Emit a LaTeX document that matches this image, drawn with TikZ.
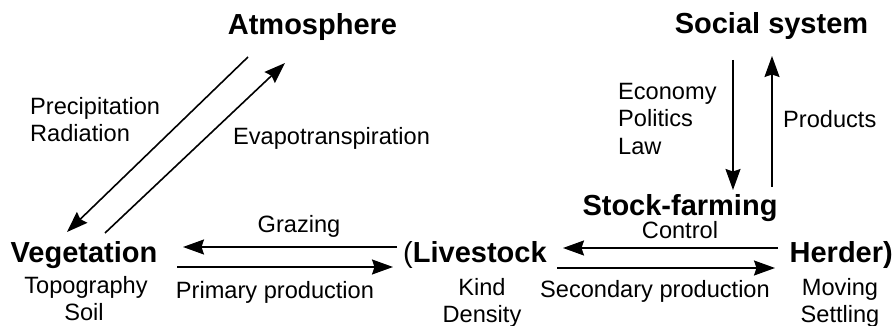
\documentclass[tikz,border=0pt]{standalone}
\usepackage{fontspec}
\setmainfont{Liberation Sans}
\usetikzlibrary{arrows.meta}
\begin{document}
\begin{tikzpicture}[x=1pt,y=-1pt,
  big/.style={font=\fontsize{29}{31}\selectfont\bfseries, inner sep=0pt, anchor=base},
  small/.style={font=\fontsize{23.6}{27}\selectfont, inner sep=0pt, anchor=base},
  flow/.style={line width=1.6pt, -{Stealth[length=21pt,width=15pt,inset=2.5pt]}}]
\useasboundingbox (0,0) rectangle (895,326);
% main nodes
\node[big] (atm) at (312.5,35) {Atmosphere};
\node[big] (soc) at (771.5,34) {Social system};
\node[big] (veg) at (84,262) {Vegetation};
\node[big, anchor=base west] (liv) at (403,262) {{\mdseries(}Livestock};
\node[big] (sf) at (680,215) {Stock-farming};
\node[big, anchor=base east] (her) at (893,262) {Herder)};
% labels
\node[small] (topo) at (86,293) {Topography};
\node[small] (soil) at (84,320) {Soil};
\node[small] (kind) at (482,295) {Kind};
\node[small] (dens) at (482,322) {Density};
\node[small] (mov) at (840,295) {Moving};
\node[small] (sett) at (840,322) {Settling};
\node[small] (graz) at (299,233) {Grazing};
\node[small] (prim) at (275,298) {Primary production};
\node[small] (ctrl) at (680,238) {Control};
\node[small] (sec) at (655,297) {Secondary production};
\node[small, anchor=base west] (prec) at (30,115) {Precipitation};
\node[small, anchor=base west] (rad) at (30,142) {Radiation};
\node[small, anchor=base west] (evap) at (233,145) {Evapotranspiration};
\node[small, anchor=base west] (eco) at (618,100) {Economy};
\node[small, anchor=base west] (pol) at (618,127) {Politics};
\node[small, anchor=base west] (law) at (618,155) {Law};
\node[small, anchor=base west] (prod) at (783,128) {Products};
% connector end points
\coordinate (pA) at (248,57);  \coordinate (pV) at (67,232);
\coordinate (eV) at (105,233); \coordinate (eA) at (285,63);
\coordinate (gL) at (397,247); \coordinate (gV) at (183,247);
\coordinate (pVs) at (177,267); \coordinate (pL) at (393,267);
\coordinate (cH) at (778,248); \coordinate (cL) at (563,248);
\coordinate (sL) at (557,268); \coordinate (sH) at (775,268);
\coordinate (eS) at (733,60);  \coordinate (eF) at (733,190);
\coordinate (uF) at (772,187); \coordinate (uS) at (772,56);
% connectors
\draw[flow] (pA) -- (pV);
\draw[flow] (eV) -- (eA);
\draw[flow] (gL) -- (gV);
\draw[flow] (pVs) -- (pL);
\draw[flow] (cH) -- (cL);
\draw[flow] (sL) -- (sH);
\draw[flow] (eS) -- (eF);
\draw[flow] (uF) -- (uS);
\end{tikzpicture}
\end{document}
